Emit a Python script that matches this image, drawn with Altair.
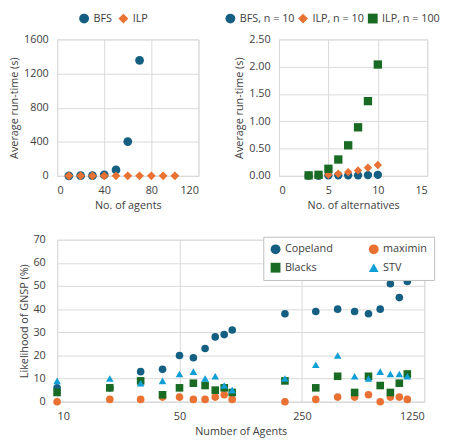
import altair as alt
import pandas as pd

FONT = "Open Sans"
TXT = "#404040"
GRID = "#D9D9D9"
BLUE = "#156082"
ORANGE = "#E97132"
GREEN = "#196B24"
LBLUE = "#0F9ED5"

# ---- top-left: run-time vs number of agents ----
bfs_agents = [10, 20, 30, 40, 50, 60, 70]
bfs_time = [1, 2, 3, 12, 70, 402, 1355]
ilp_agents = [10, 20, 30, 40, 50, 60, 70, 80, 90, 100]
ilp_time = [1, 1, 1, 1, 1, 1, 1, 1, 1, 1]

# ---- top-right: run-time vs number of alternatives ----
alternatives = [3, 4, 5, 6, 7, 8, 9, 10]
bfs_n10 = [0.0, 0.0, 0.01, 0.01, 0.01, 0.01, 0.015, 0.02]
ilp_n10 = [0.0, 0.01, 0.02, 0.04, 0.07, 0.10, 0.15, 0.20]
ilp_n100 = [0.01, 0.02, 0.13, 0.30, 0.56, 0.89, 1.37, 2.04]

# ---- bottom: likelihood of GNSP ----
agents = [10, 20, 30, 40, 50, 60, 70, 80, 90, 100, 200, 300, 400, 500, 600, 700, 800, 900, 1000]
copeland = [6, 6, 13, 14, 20, 19, 23, 28, 29, 31, 38, 39, 40, 39, 38, 40, 51, 45, 52]
maximin = [0, 1, 1, 2, 2, 1, 1, 2, 3, 1, 0, 1, 2, 2, 3, 0, 2, 2, 1]
blacks = [4, 6, 9, 3, 6, 8, 7, 5, 6, 4, 9, 6, 11, 4, 11, 7, 4, 8, 12]
stv = [9, 10, 8, 9, 12, 13, 10, 11, 7, 5, 10, 16, 20, 11, 10, 13, 12, 12, 11]

top_left_series = ["BFS", "ILP"]
top_right_series = ["BFS, n = 10", "ILP, n = 10", "ILP, n = 100"]
bottom_series = ["Copeland", "maximin", "Blacks", "STV"]


def ax(values, title, fmt=None, pad=9):
    kw = dict(values=values, title=title, grid=True, gridColor=GRID, domainColor=GRID,
              ticks=False, labelPadding=pad, labelFont=FONT, labelFontSize=11,
              labelColor=TXT, titleFont=FONT, titleFontSize=11, titleColor=TXT,
              titleFontWeight="normal")
    if fmt:
        kw["format"] = fmt
    return alt.Axis(**kw)


def leg(x, y, cols=None, colpad=6, **extra):
    kw = dict(orient="none", legendX=x, legendY=y, direction="horizontal", title=None,
              labelFont=FONT, labelFontSize=11, labelColor=TXT, columnPadding=colpad,
              symbolStrokeWidth=0)
    if cols:
        kw["columns"] = cols
    kw.update(extra)
    return alt.Legend(**kw)


df_a = pd.DataFrame(
    [{"x": a, "y": t, "sa": "BFS"} for a, t in zip(bfs_agents, bfs_time)]
    + [{"x": a, "y": t, "sa": "ILP"} for a, t in zip(ilp_agents, ilp_time)]
)
chart_a = alt.Chart(df_a).mark_point(filled=True, opacity=1, size=80).encode(
    x=alt.X("x:Q", scale=alt.Scale(domain=[0, 120]), axis=ax([0, 40, 80, 120], "No. of agents")),
    y=alt.Y("y:Q", scale=alt.Scale(domain=[0, 1600]),
            axis=ax([0, 400, 800, 1200, 1600], "Average run-time (s)", fmt="d")),
    color=alt.Color("sa:N", scale=alt.Scale(domain=top_left_series, range=[BLUE, ORANGE]),
                    legend=leg(22, -27)),
    shape=alt.Shape("sa:N", scale=alt.Scale(domain=top_left_series, range=["circle", "diamond"]),
                    legend=leg(22, -27)),
).properties(width=144, height=139)

df_b = pd.DataFrame(
    [{"x": a, "y": v, "sb": top_right_series[0]} for a, v in zip(alternatives, bfs_n10)]
    + [{"x": a, "y": v, "sb": top_right_series[1]} for a, v in zip(alternatives, ilp_n10)]
    + [{"x": a, "y": v, "sb": top_right_series[2]} for a, v in zip(alternatives, ilp_n100)]
)
chart_b = alt.Chart(df_b).mark_point(filled=True, opacity=1, size=72).encode(
    x=alt.X("x:Q", scale=alt.Scale(domain=[0, 15]), axis=ax([0, 5, 10, 15], "No. of alternatives")),
    y=alt.Y("y:Q", scale=alt.Scale(domain=[0, 2.5]),
            axis=ax([0, 0.5, 1.0, 1.5, 2.0, 2.5], "Average run-time (s)", fmt=".2f")),
    color=alt.Color("sb:N", scale=alt.Scale(domain=top_right_series, range=[BLUE, ORANGE, GREEN]),
                    legend=leg(-55, -27, colpad=3)),
    shape=alt.Shape("sb:N", scale=alt.Scale(domain=top_right_series, range=["circle", "diamond", "square"]),
                    legend=leg(-55, -27, colpad=3)),
).properties(width=151, height=139)

rows = []
for name, vals in zip(bottom_series, [copeland, maximin, blacks, stv]):
    for a, v in zip(agents, vals):
        rows.append({"x": a, "y": v, "sc": name})
df_c = pd.DataFrame(rows)
leg_c = dict(padding=7, fillColor="white", strokeColor="#BFBFBF", rowPadding=7)
chart_c = alt.Chart(df_c).mark_point(filled=True, opacity=1, size=60).encode(
    x=alt.X("x:Q", scale=alt.Scale(type="log", base=5, domain=[10, 1250]),
            axis=ax([10, 50, 250, 1250], "Number of Agents", fmt="d")),
    y=alt.Y("y:Q", scale=alt.Scale(domain=[0, 70]),
            axis=ax([0, 10, 20, 30, 40, 50, 60, 70], "Likelihood of GNSP (%)", pad=12)),
    color=alt.Color("sc:N", scale=alt.Scale(domain=bottom_series, range=[BLUE, ORANGE, GREEN, LBLUE]),
                    legend=leg(210, -3, cols=2, colpad=36, **leg_c)),
    shape=alt.Shape("sc:N", scale=alt.Scale(domain=bottom_series,
                                            range=["circle", "circle", "square", "triangle-up"]),
                    legend=leg(210, -3, cols=2, colpad=36, **leg_c)),
).properties(width=374, height=165)

top = alt.hconcat(chart_a, chart_b, spacing=82, bounds="flush").resolve_scale(
    color="independent", shape="independent").resolve_legend(color="independent", shape="independent")
chart = alt.concat(top, chart_c, columns=1, align="none", spacing=22).resolve_scale(
    color="independent", shape="independent").resolve_legend(
    color="independent", shape="independent").properties(padding=0).configure_view(
    strokeWidth=0
).configure(background="white")

chart.save("out.html", embed_options={"renderer": "svg", "actions": False})
